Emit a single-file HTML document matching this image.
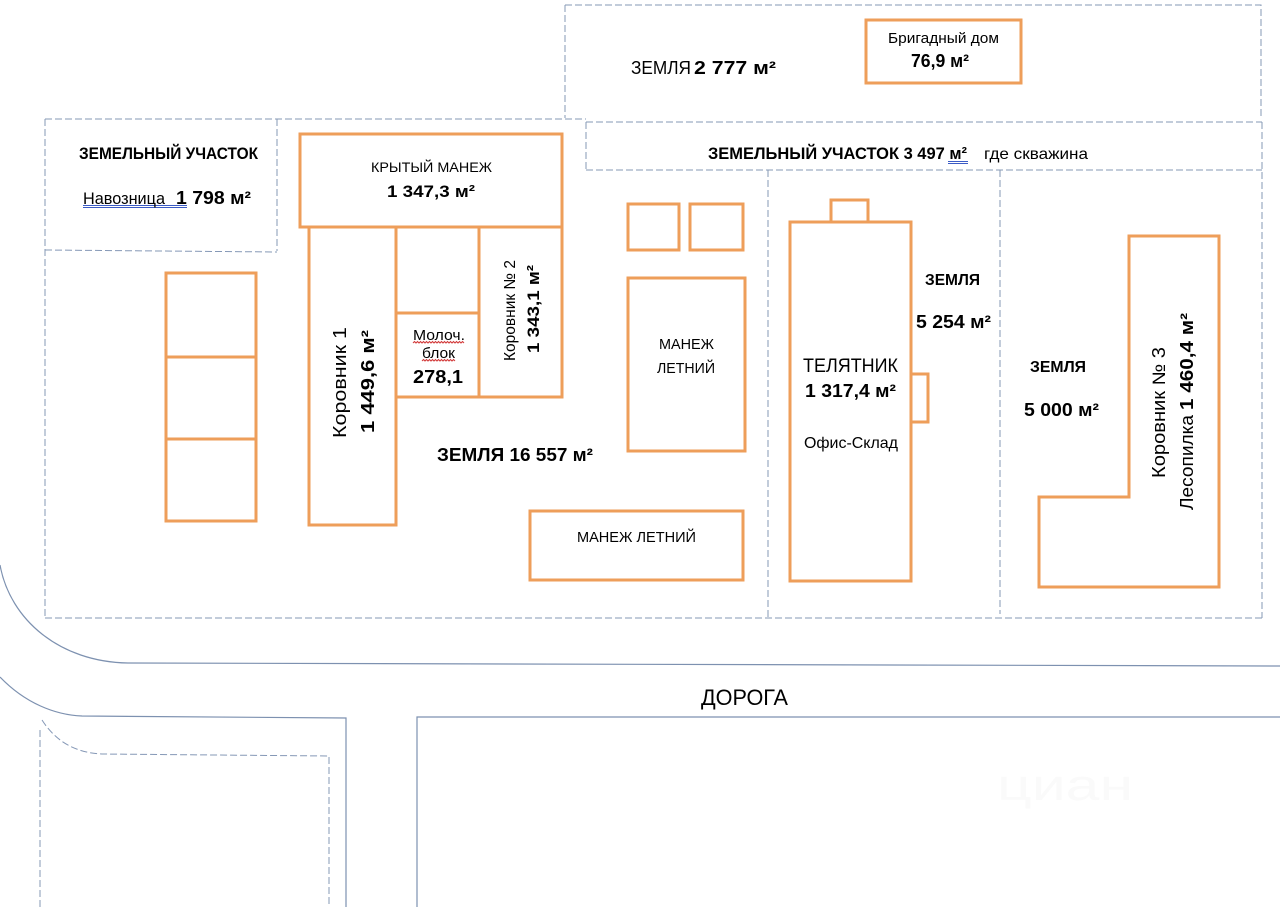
<!DOCTYPE html>
<html>
<head>
<meta charset="utf-8">
<style>
html,body{margin:0;padding:0;background:#fff;}
svg{display:block;}
text{font-family:"Liberation Sans","Noto Sans CJK SC",sans-serif;fill:#000;}
.b{font-weight:bold;}
</style>
</head>
<body>
<svg width="1280" height="907" viewBox="0 0 1280 907" xmlns="http://www.w3.org/2000/svg">
<rect width="1280" height="907" fill="#fff"/>

<!-- watermark -->
<text x="997" y="800" font-size="44" textLength="136" lengthAdjust="spacingAndGlyphs" style="fill:#fafafa">циан</text>

<!-- dashed land boundaries -->
<g fill="none" stroke="#8598b6" stroke-width="1" stroke-dasharray="7 3">
  <path d="M565,5 H1261 V118"/>
  <path d="M565,5 V118"/>
  <path d="M45,119 H586"/>
  <path d="M45,119 V618"/>
  <path d="M45,618 H1262"/>
  <path d="M1262,122 V618"/>
  <path d="M586,122 H1262"/>
  <path d="M586,122 V170"/>
  <path d="M586,170 H1262"/>
  <path d="M277,119 V251"/>
  <path d="M45,250 L277,252"/>
  <path d="M768,170 V618"/>
  <path d="M1000,170 V614"/>
  <path d="M40,907 V727"/>
  <path d="M42,720 C58,745 80,753 102,754 L329,756 V907"/>
</g>

<!-- road -->
<g fill="none" stroke="#7d91b0" stroke-width="1.2">
  <path d="M0,565 C10,620 60,662 128,663 L1280,666"/>
  <path d="M0,677 C25,703 55,715 82,716 L346,718 V907"/>
  <path d="M417,907 V717 H1280"/>
</g>

<!-- buildings -->
<g fill="none" stroke="#ee9e5a" stroke-width="3">
  <rect x="866" y="20" width="155" height="63"/>
  <rect x="300" y="134" width="262" height="93"/>
  <rect x="309" y="227" width="87" height="298"/>
  <rect x="396" y="227" width="83" height="86"/>
  <rect x="396" y="313" width="83" height="84"/>
  <rect x="479" y="227" width="83" height="170"/>
  <rect x="166" y="273" width="90" height="248"/>
  <path d="M166,357 H256 M166,439 H256"/>
  <rect x="628" y="204" width="51" height="46"/>
  <rect x="690" y="204" width="53" height="46"/>
  <rect x="628" y="278" width="117" height="173"/>
  <rect x="530" y="511" width="213" height="69"/>
  <rect x="790" y="222" width="121" height="359"/>
  <rect x="831" y="200" width="37" height="22"/>
  <rect x="911" y="374" width="17" height="48"/>
  <polygon points="1129,236 1219,236 1219,587 1039,587 1039,497 1129,497"/>
</g>

<!-- underlines -->
<g stroke="#3b5bc5" stroke-width="1" fill="none">
  <path d="M83,205.5 H187 M83,207.5 H187"/>
  <path d="M948,161.5 H968 M948,163.5 H968"/>
</g>
<g stroke="#d23a3a" stroke-width="1" fill="none">
  <path d="M413,343 l1.5,-1.5 l1.5,1.5 l1.5,-1.5 l1.5,1.5 l1.5,-1.5 l1.5,1.5 l1.5,-1.5 l1.5,1.5 l1.5,-1.5 l1.5,1.5 l1.5,-1.5 l1.5,1.5 l1.5,-1.5 l1.5,1.5 l1.5,-1.5 l1.5,1.5 l1.5,-1.5 l1.5,1.5 l1.5,-1.5 l1.5,1.5 l1.5,-1.5 l1.5,1.5 l1.5,-1.5 l1.5,1.5 l1.5,-1.5 l1.5,1.5 l1.5,-1.5 l1.5,1.5 l1.5,-1.5 l1.5,1.5 l1.5,-1.5 l1.5,1.5 l1.5,-1.5 l1.5,1.5"/>
  <path d="M422,361 l1.5,-1.5 l1.5,1.5 l1.5,-1.5 l1.5,1.5 l1.5,-1.5 l1.5,1.5 l1.5,-1.5 l1.5,1.5 l1.5,-1.5 l1.5,1.5 l1.5,-1.5 l1.5,1.5 l1.5,-1.5 l1.5,1.5 l1.5,-1.5 l1.5,1.5 l1.5,-1.5 l1.5,1.5 l1.5,-1.5 l1.5,1.5 l1.5,-1.5 l1.5,1.5"/>
</g>

<!-- top labels -->
<text x="631" y="74" font-size="18" textLength="60" lengthAdjust="spacingAndGlyphs">ЗЕМЛЯ</text>
<text x="694" y="74" font-size="18" class="b" textLength="82" lengthAdjust="spacingAndGlyphs">2 777 м²</text>
<text x="888" y="43" font-size="15" textLength="111" lengthAdjust="spacingAndGlyphs">Бригадный дом</text>
<text x="911" y="67" font-size="18" class="b" textLength="58" lengthAdjust="spacingAndGlyphs">76,9 м²</text>

<text x="708" y="159" font-size="17" class="b" textLength="259" lengthAdjust="spacingAndGlyphs">ЗЕМЕЛЬНЫЙ УЧАСТОК 3 497 м²</text>
<text x="984" y="159" font-size="16" textLength="104" lengthAdjust="spacingAndGlyphs">где скважина</text>

<text x="79" y="159" font-size="17" class="b" textLength="179" lengthAdjust="spacingAndGlyphs">ЗЕМЕЛЬНЫЙ УЧАСТОК</text>
<text x="83" y="204" font-size="17" textLength="82" lengthAdjust="spacingAndGlyphs">Навозница</text>
<text x="176" y="204" font-size="18" class="b" textLength="75" lengthAdjust="spacingAndGlyphs">1 798 м²</text>

<text x="371" y="172" font-size="14" textLength="121" lengthAdjust="spacingAndGlyphs">КРЫТЫЙ МАНЕЖ</text>
<text x="387" y="197" font-size="17" class="b" textLength="88" lengthAdjust="spacingAndGlyphs">1 347,3 м²</text>

<text x="413" y="340" font-size="15" textLength="52" lengthAdjust="spacingAndGlyphs">Молоч.</text>
<text x="422" y="358" font-size="15" textLength="33" lengthAdjust="spacingAndGlyphs">блок</text>
<text x="413" y="383" font-size="18" class="b" textLength="50" lengthAdjust="spacingAndGlyphs">278,1</text>

<text x="437" y="461" font-size="18" class="b" textLength="156" lengthAdjust="spacingAndGlyphs">ЗЕМЛЯ 16 557 м²</text>

<text x="659" y="349" font-size="15" textLength="55" lengthAdjust="spacingAndGlyphs">МАНЕЖ</text>
<text x="657" y="373" font-size="15" textLength="58" lengthAdjust="spacingAndGlyphs">ЛЕТНИЙ</text>
<text x="577" y="542" font-size="15" textLength="119" lengthAdjust="spacingAndGlyphs">МАНЕЖ ЛЕТНИЙ</text>

<text x="803" y="372" font-size="19" textLength="95" lengthAdjust="spacingAndGlyphs">ТЕЛЯТНИК</text>
<text x="805" y="397" font-size="18" class="b" textLength="91" lengthAdjust="spacingAndGlyphs">1 317,4 м²</text>
<text x="804" y="448" font-size="16" textLength="94" lengthAdjust="spacingAndGlyphs">Офис-Склад</text>

<text x="925" y="285" font-size="16" class="b" textLength="55" lengthAdjust="spacingAndGlyphs">ЗЕМЛЯ</text>
<text x="916" y="328" font-size="18" class="b" textLength="75" lengthAdjust="spacingAndGlyphs">5 254 м²</text>

<text x="1030" y="372" font-size="16" class="b" textLength="56" lengthAdjust="spacingAndGlyphs">ЗЕМЛЯ</text>
<text x="1024" y="416" font-size="18" class="b" textLength="75" lengthAdjust="spacingAndGlyphs">5 000 м²</text>

<text x="701" y="705" font-size="22" textLength="87" lengthAdjust="spacingAndGlyphs">ДОРОГА</text>

<!-- rotated labels -->
<g transform="translate(346,438) rotate(-90)">
  <text x="0" y="0" font-size="18" textLength="111" lengthAdjust="spacingAndGlyphs">Коровник 1</text>
</g>
<g transform="translate(374,433) rotate(-90)">
  <text x="0" y="0" font-size="18" class="b" textLength="103" lengthAdjust="spacingAndGlyphs">1 449,6 м²</text>
</g>
<g transform="translate(515,361) rotate(-90)">
  <text x="0" y="0" font-size="16" textLength="101" lengthAdjust="spacingAndGlyphs">Коровник № 2</text>
</g>
<g transform="translate(539,353) rotate(-90)">
  <text x="0" y="0" font-size="17" class="b" textLength="88" lengthAdjust="spacingAndGlyphs">1 343,1 м²</text>
</g>
<g transform="translate(1165,478) rotate(-90)">
  <text x="0" y="0" font-size="18" textLength="131" lengthAdjust="spacingAndGlyphs">Коровник № 3</text>
</g>
<g transform="translate(1193,510) rotate(-90)">
  <text x="0" y="0" font-size="18" textLength="95" lengthAdjust="spacingAndGlyphs">Лесопилка</text>
  <text x="100" y="0" font-size="18" class="b" textLength="97" lengthAdjust="spacingAndGlyphs">1 460,4 м²</text>
</g>
</svg>
</body>
</html>
